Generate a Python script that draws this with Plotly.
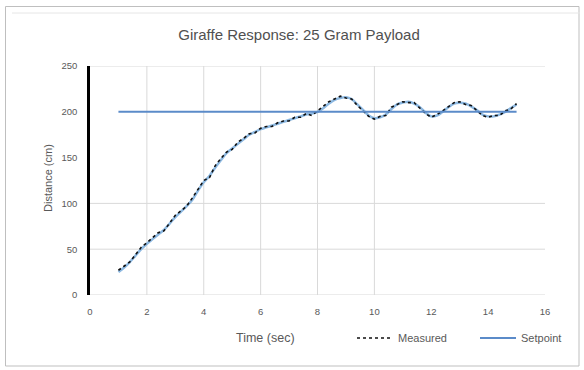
import plotly.graph_objects as go

# ---- data ----
time_s = [1.0, 1.2, 1.4, 1.6, 1.8, 2.0, 2.2, 2.4, 2.6, 2.8, 3.0, 3.2, 3.4, 3.6, 3.8,
          4.0, 4.2, 4.4, 4.6, 4.8, 5.0, 5.2, 5.4, 5.6, 5.8, 6.0, 6.2, 6.4, 6.6, 6.8,
          7.0, 7.2, 7.4, 7.6, 7.8, 8.0, 8.2, 8.4, 8.6, 8.8, 9.0, 9.2, 9.4, 9.6, 9.8,
          10.0, 10.2, 10.4, 10.6, 10.8, 11.0, 11.2, 11.4, 11.6, 11.8, 12.0, 12.2, 12.4,
          12.6, 12.8, 13.0, 13.2, 13.4, 13.6, 13.8, 14.0, 14.2, 14.4, 14.6, 14.8, 15.0]
fit_cm = [25, 30, 36, 43, 50, 56, 61, 66, 71, 78, 85, 91, 97, 104, 114,
          123, 130, 139, 147, 155, 160, 165, 170, 175, 178, 181, 183, 185, 187, 189,
          191, 193, 195, 197, 198, 200, 204, 209, 213, 215, 216, 214, 208, 202, 196,
          193, 194, 197, 203, 208, 210, 211, 209, 205, 199, 195, 196, 200, 205, 209,
          210, 209, 206, 202, 197, 195, 195, 197, 200, 204, 208]
measured_cm = [27, 32, 36, 44, 52, 57, 62, 68, 70, 79, 87, 92, 97, 106, 115,
               125, 128, 141, 149, 156, 159, 167, 171, 176, 177, 182, 184, 184, 188, 190,
               190, 194, 194, 198, 196, 201, 205, 211, 214, 217, 215, 214, 207, 201, 195,
               192, 195, 196, 205, 208, 211, 210, 210, 204, 198, 194, 197, 201, 206, 210,
               211, 208, 207, 201, 196, 194, 196, 196, 201, 203, 209]
setpoint_t = [1.0, 15.0]
setpoint_cm = [200, 200]

x_ticks = [0, 2, 4, 6, 8, 10, 12, 14, 16]
y_ticks = [0, 50, 100, 150, 200, 250]
grid_x = [2, 4, 6, 8, 10]
grid_y = [50, 100, 250]

title = "Giraffe Response: 25 Gram Payload"
x_title = "Time (sec)"
y_title = "Distance (cm)"

W, H = 584, 370
L, R, T, B = 90, 39, 66, 75
pw, ph = W - L - R, H - T - B

def px_x(p):
    return (p - L) / pw

def px_y(p):
    return (H - B - p) / ph

fig = go.Figure()

fig.add_trace(go.Scatter(x=time_s, y=fit_cm, mode="lines", line=dict(color="#8DB9E2", width=2.5, shape="spline"),
                         showlegend=False, hoverinfo="skip"))
fig.add_trace(go.Scatter(x=time_s, y=measured_cm, mode="lines", name="Measured", legend="legend",
                         line=dict(color="#111111", width=1.6, dash="dot")))
fig.add_trace(go.Scatter(x=setpoint_t, y=setpoint_cm, mode="lines", name="Setpoint", legend="legend2",
                         line=dict(color="#5B8BC9", width=2)))

shapes = []
for gx in grid_x:
    shapes.append(dict(type="line", xref="x", yref="y", x0=gx, x1=gx, y0=0, y1=250,
                       line=dict(color="#D9D9D9", width=1), layer="below"))
for gy in grid_y:
    shapes.append(dict(type="line", xref="x", yref="y", x0=0, x1=16, y0=gy, y1=gy,
                       line=dict(color="#D9D9D9", width=1), layer="below"))
shapes.append(dict(type="line", xref="x", yref="y", x0=0, x1=16, y0=0, y1=0,
                   line=dict(color="#D9D9D9", width=1), layer="below"))
shapes.append(dict(type="rect", xref="paper", yref="paper",
                   x0=px_x(5.5), x1=px_x(579), y0=px_y(6.5), y1=px_y(366),
                   line=dict(color="#BFBFBF", width=1)))
shapes.append(dict(type="line", xref="paper", yref="paper",
                   x0=px_x(12), x1=px_x(580), y0=px_y(13), y1=px_y(13),
                   line=dict(color="#E6E6E6", width=1)))

leg_common = dict(orientation="h", yanchor="middle", xanchor="left", font=dict(size=11),
                  itemwidth=36, bgcolor="rgba(0,0,0,0)")

fig.update_layout(
    width=W, height=H,
    margin=dict(l=L, r=R, t=T, b=B),
    paper_bgcolor="white", plot_bgcolor="white",
    font=dict(family="Liberation Sans, Arial, sans-serif", color="#595959", size=9),
    title=dict(text=title, x=px_x(299), xref="paper", xanchor="center",
               y=1 - 35 / H, yanchor="middle", font=dict(size=15, color="#505050")),
    xaxis=dict(range=[0, 16], tickvals=x_ticks, showgrid=False, zeroline=False,
               showline=False, ticks="", tickfont=dict(size=9.5), ticklabelstandoff=9),
    yaxis=dict(range=[0, 250], tickvals=y_ticks, showgrid=False, zeroline=False,
               showline=True, linecolor="black", linewidth=2.5, ticks="",
               tickfont=dict(size=9.5), ticklabelstandoff=8),
    shapes=shapes,
    showlegend=True,
    legend=dict(x=px_x(352), y=px_y(338), **leg_common),
    legend2=dict(x=px_x(475), y=px_y(338), **leg_common),
    annotations=[
        dict(text=x_title, xref="paper", yref="paper", x=px_x(265), y=px_y(338),
             showarrow=False, xanchor="center", yanchor="middle", font=dict(size=12.5)),
        dict(text=y_title, xref="paper", yref="paper", x=px_x(48), y=px_y(178),
             showarrow=False, textangle=-90, xanchor="center", yanchor="middle", font=dict(size=11)),
    ],
)

fig.write_html("out.html")
